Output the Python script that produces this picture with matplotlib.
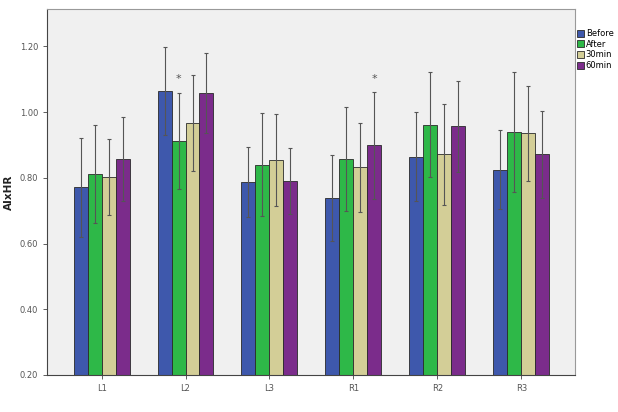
import numpy as np
import matplotlib
matplotlib.use("Agg")
import matplotlib.pyplot as plt

categories = ["L1", "L2", "L3", "R1", "R2", "R3"]
series = ["Before", "After", "30min", "60min"]
before = [0.771, 1.065, 0.787, 0.740, 0.865, 0.825]
after = [0.811, 0.912, 0.840, 0.858, 0.962, 0.940]
min30 = [0.803, 0.967, 0.854, 0.832, 0.872, 0.936]
min60 = [0.858, 1.059, 0.790, 0.899, 0.957, 0.872]
sd_before = [0.150, 0.133, 0.107, 0.131, 0.135, 0.120]
sd_after = [0.149, 0.147, 0.156, 0.159, 0.159, 0.183]
sd_30 = [0.116, 0.147, 0.140, 0.136, 0.154, 0.144]
sd_60 = [0.127, 0.122, 0.100, 0.162, 0.139, 0.133]
# significance marks: (category index, series index)
stars = [(1, 1), (3, 3)]

colors = ["#3E58AC", "#2EB848", "#D3CE97", "#7B2C8B"]
values = [before, after, min30, min60]
sds = [sd_before, sd_after, sd_30, sd_60]

fig = plt.figure(figsize=(6.18, 4.12), dpi=100)
ax = fig.add_axes([47/618, 37/412, 528/618, 366/412])
ax.set_facecolor("#F0F0F0")

x = np.arange(len(categories))
w = 1/6
for i, (vals, sd, c, name) in enumerate(zip(values, sds, colors, series)):
    pos = x + (i - 1.5) * w
    ax.bar(pos, np.array(vals) - 0.2, width=w, bottom=0.2, color=c,
           edgecolor="#2a2a2a", linewidth=0.6, label=name, zorder=2)
    ax.errorbar(pos, vals, yerr=sd, fmt="none", ecolor="#555555",
                elinewidth=0.8, capsize=1.3, capthick=0.8, zorder=3)

for ci, si in stars:
    xp = x[ci] + (si - 1.5) * w
    yp = values[si][ci] + sds[si][ci]
    ax.annotate("*", (xp, yp), xytext=(0, 6), textcoords="offset points",
                ha="center", va="bottom", fontsize=8, color="#555555")

ax.set_xlim(-0.65, 5.64)
ax.set_ylim(0.2, 1.314)
ax.set_yticks([0.2, 0.4, 0.6, 0.8, 1.0, 1.2])
ax.set_yticklabels(["%.2f" % v for v in [0.2, 0.4, 0.6, 0.8, 1.0, 1.2]])
ax.set_xticks(x)
ax.set_xticklabels(categories)
ax.tick_params(axis="both", labelsize=6, labelcolor="#555555", color="#444444",
               length=3, width=0.6, direction="out")
for s in ax.spines.values():
    s.set_color("#999999")
    s.set_linewidth(0.8)
ax.spines["left"].set_color("#444444")
ax.spines["bottom"].set_color("#444444")
ax.set_ylabel("AIxHR", fontsize=7.5, fontweight="bold", labelpad=4, color="#222222")

leg = ax.legend(loc="upper left", bbox_to_anchor=(1.003, 0.945), frameon=False,
                fontsize=6, handlelength=0.9, handleheight=0.9, handletextpad=0.2,
                labelspacing=0.2, borderaxespad=0, borderpad=0)
fig.savefig("out.png", dpi=100, facecolor="white")
